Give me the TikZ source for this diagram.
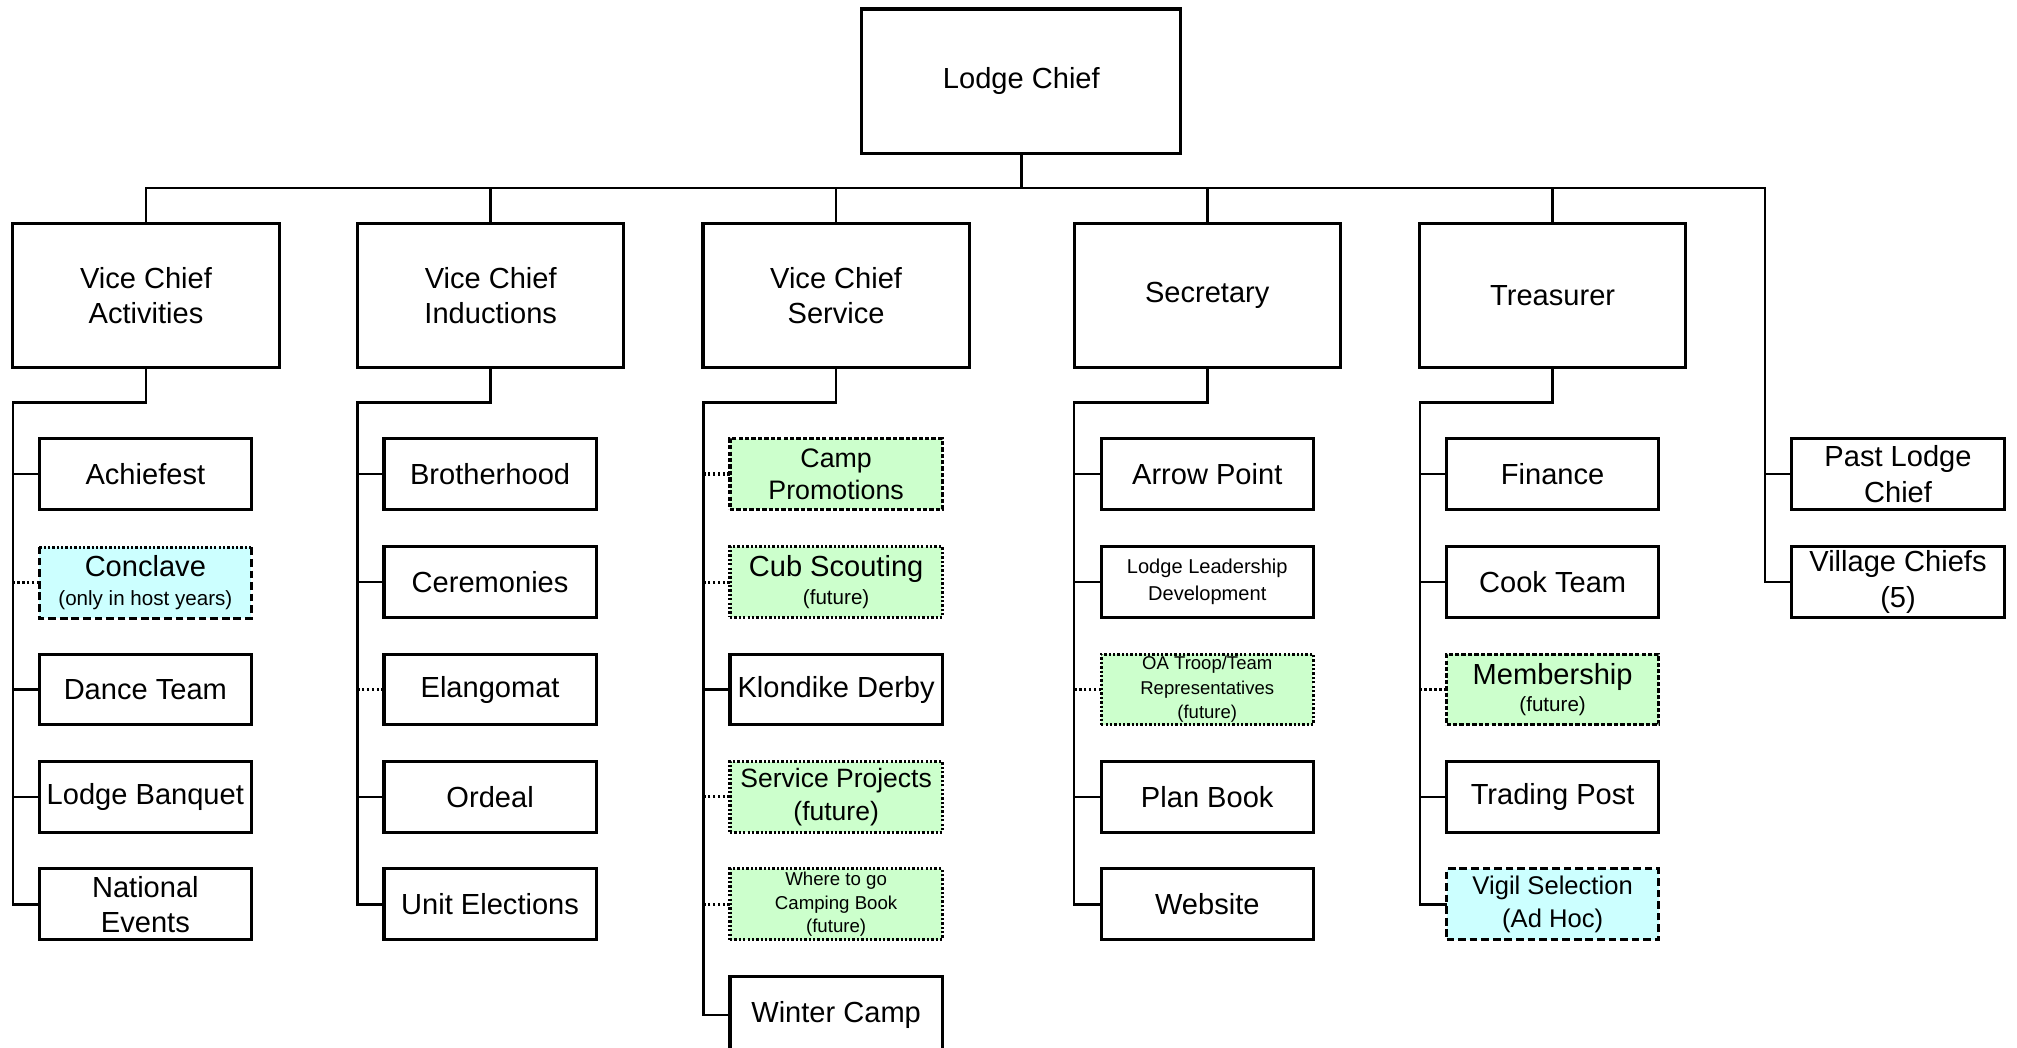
\documentclass[tikz,border=0pt]{standalone}
\usepackage{fontspec}
\setmainfont{Liberation Sans}
\definecolor{cyanfill}{HTML}{CCFFFF}
\definecolor{greenfill}{HTML}{CCFFCC}
\newcommand\fntL{\fontsize{22.6pt}{27.5pt}\selectfont}
\newcommand\fntS{\fontsize{16pt}{19pt}\selectfont}
\begin{document}
\begin{tikzpicture}[x=1pt,y=-1pt,
  box/.style={draw, line width=2.4pt, fill=white, align=center, inner sep=0pt, outer sep=0pt, font=\fntL},
  topbox/.style={box, minimum width=248pt, minimum height=112pt},
  vcbox/.style={box, minimum width=207pt, minimum height=112pt},
  chbox/.style={box, minimum width=165pt, minimum height=55pt},
  conn/.style={line width=2pt},
  dotconn/.style={line width=2.4pt, dash pattern=on 2pt off 1.8pt},
  dotbox/.style={dash pattern=on 1.8pt off 1.6pt},
  dashbox/.style={dash pattern=on 3.4pt off 1.6pt},
  longdash/.style={dash pattern=on 6pt off 3pt},
  gfill/.style={fill=greenfill},
  cfill/.style={fill=cyanfill}]
\useasboundingbox (0,0) rectangle (1568,814);
\clip (0,0) rectangle (1568,814);

% top level
\node[topbox] (lc) at (794,63) {Lodge Chief};
\node[vcbox] (vca) at (113.5,230) {Vice Chief\\Activities};
\node[vcbox] (vci) at (381.5,230) {Vice Chief\\Inductions};
\node[vcbox] (vcs) at (650,230) {Vice Chief\\Service};
\node[vcbox] (sec) at (938.5,230) {Secretary};
\node[vcbox] (tre) at (1207,230) {Treasurer};

% column 1
\node[chbox] (a1) at (113,368.5) {Achiefest};
\node[chbox, cfill, draw=none] (a2) at (113,453) {Conclave\\[-5pt]{\fntS (only in host years)}};
\node[chbox] (a3) at (113,536) {Dance Team};
\node[chbox] (a4) at (113,619.5) {Lodge Banquet};
\node[chbox] (a5) at (113,703) {National\\Events};

% column 2
\node[chbox] (b1) at (381,368.5) {Brotherhood};
\node[chbox] (b2) at (381,452.5) {Ceremonies};
\node[chbox] (b3) at (381,536) {Elangomat};
\node[chbox] (b4) at (381,619.5) {Ordeal};
\node[chbox] (b5) at (381,703) {Unit Elections};

% column 3
\node[chbox, gfill, dashbox, font={\fontsize{20.8pt}{25pt}\selectfont}] (c1) at (650,368.5) {Camp\\Promotions};
\node[chbox, gfill, dotbox] (c2) at (650,452.5) {Cub Scouting\\[-5pt]{\fntS (future)}};
\node[chbox] (c3) at (650,536) {Klondike Derby};
\node[chbox, gfill, dotbox, font={\fontsize{20.6pt}{26pt}\selectfont}] (c4) at (650,619.5) {Service Projects\\(future)};
\node[chbox, gfill, dotbox, font={\fontsize{14.5pt}{18.5pt}\selectfont}] (c5) at (650,703) {Where to go\\Camping Book\\(future)};
\node[chbox, minimum height=60pt] (c6) at (650,789) {Winter Camp};

% column 4
\node[chbox] (d1) at (938.5,368.5) {Arrow Point};
\node[chbox, font={\fontsize{15.6pt}{21pt}\selectfont}] (d2) at (938.5,452.5) {Lodge Leadership\\Development};
\node[chbox, gfill, dotbox, font={\fontsize{14.4pt}{19pt}\selectfont}] (d3) at (938.5,536) {OA Troop/Team\\Representatives\\(future)};
\node[chbox] (d4) at (938.5,619.5) {Plan Book};
\node[chbox] (d5) at (938.5,703) {Website};

% column 5
\node[chbox] (e1) at (1207,368.5) {Finance};
\node[chbox] (e2) at (1207,452.5) {Cook Team};
\node[chbox, gfill, dashbox] (e3) at (1207,536) {Membership\\[-6pt]{\fntS (future)}};
\node[chbox] (e4) at (1207,619.5) {Trading Post};
\node[chbox, cfill, longdash, font={\fontsize{19.9pt}{26pt}\selectfont}] (e5) at (1207,703) {Vigil Selection\\(Ad Hoc)};

% column 6
\node[chbox] (p1) at (1475.5,368.5) {Past Lodge\\Chief};
\node[chbox] (p2) at (1475.5,452.5) {Village Chiefs\\(5)};

% Conclave border
\draw[line width=2.4pt, longdash] (a2.north east) -- (a2.south east) -- (a2.south west) -- (a2.north west);
\draw[line width=2.4pt, dotbox] (a2.north west) -- (a2.north east);

% bus and spine corners
\coordinate (busR) at (1372,146);
\coordinate (s1) at (10,313);
\coordinate (s2) at (278,313);
\coordinate (s3) at (547,313);
\coordinate (s4) at (835,313);
\coordinate (s5) at (1104,313);

\draw[conn] (lc.south) -- (lc.south |- busR);
\draw[conn] (vca.north) |- (busR) |- (p2.west);
\draw[conn] (vci.north) -- (vci.north |- busR);
\draw[conn] (vcs.north) -- (vcs.north |- busR);
\draw[conn] (sec.north) -- (sec.north |- busR);
\draw[conn] (tre.north) -- (tre.north |- busR);
\draw[conn] (p1.west) -- (p1.west -| busR);

% column spines
\draw[conn] (vca.south) |- (s1) |- (a5.west);
\draw[conn] (a1.west) -- (a1.west -| s1);
\draw[dotconn] (a2.west) -- (a2.west -| s1);
\draw[conn] (a3.west) -- (a3.west -| s1);
\draw[conn] (a4.west) -- (a4.west -| s1);

\draw[conn] (vci.south) |- (s2) |- (b5.west);
\draw[conn] (b1.west) -- (b1.west -| s2);
\draw[conn] (b2.west) -- (b2.west -| s2);
\draw[dotconn] (b3.west) -- (b3.west -| s2);
\draw[conn] (b4.west) -- (b4.west -| s2);

\draw[conn] (vcs.south) |- (s3) |- (c6.west);
\draw[dotconn] (c1.west) -- (c1.west -| s3);
\draw[dotconn] (c2.west) -- (c2.west -| s3);
\draw[conn] (c3.west) -- (c3.west -| s3);
\draw[dotconn] (c4.west) -- (c4.west -| s3);
\draw[dotconn] (c5.west) -- (c5.west -| s3);

\draw[conn] (sec.south) |- (s4) |- (d5.west);
\draw[conn] (d1.west) -- (d1.west -| s4);
\draw[conn] (d2.west) -- (d2.west -| s4);
\draw[dotconn] (d3.west) -- (d3.west -| s4);
\draw[conn] (d4.west) -- (d4.west -| s4);

\draw[conn] (tre.south) |- (s5) |- (e5.west);
\draw[conn] (e1.west) -- (e1.west -| s5);
\draw[conn] (e2.west) -- (e2.west -| s5);
\draw[dotconn] (e3.west) -- (e3.west -| s5);
\draw[conn] (e4.west) -- (e4.west -| s5);
\end{tikzpicture}
\end{document}
